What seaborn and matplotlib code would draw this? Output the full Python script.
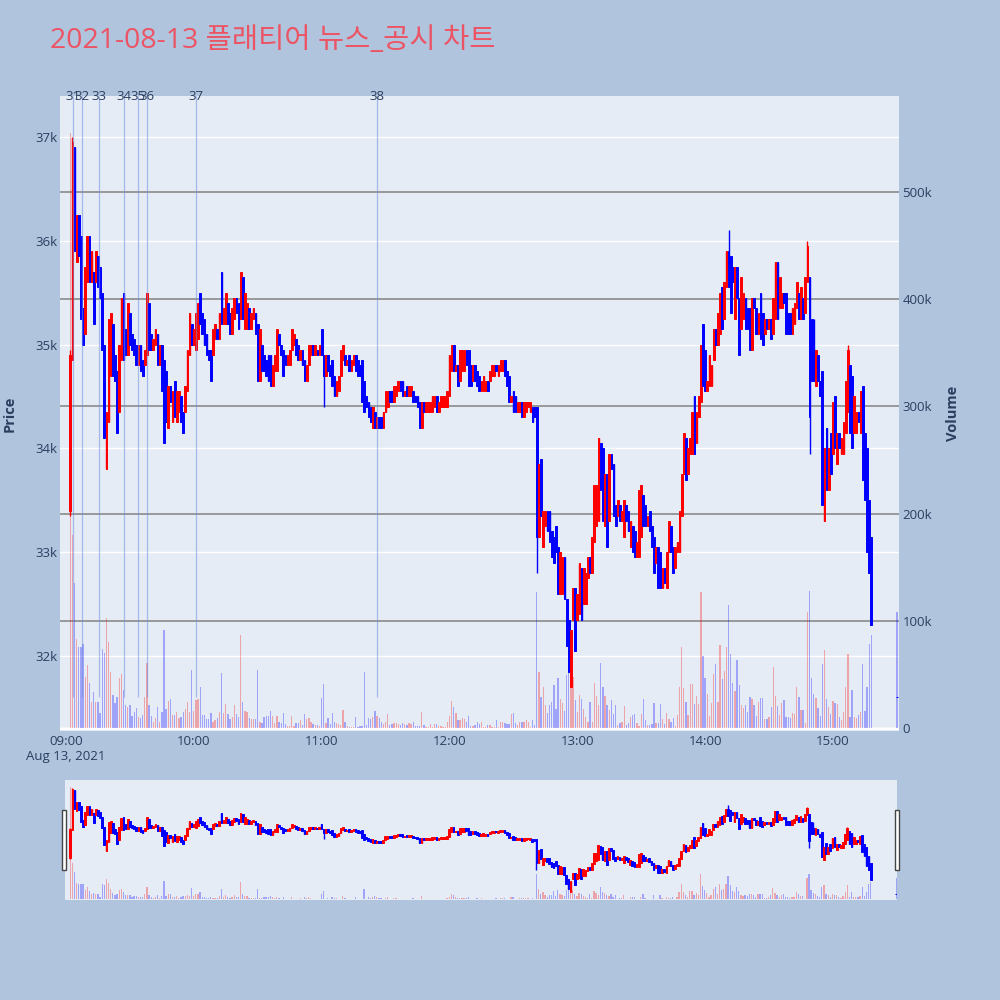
import numpy as np
import pandas as pd
import matplotlib
matplotlib.use("Agg")
import matplotlib.pyplot as plt
import matplotlib.dates as mdates
import matplotlib.ticker as mticker
from matplotlib.patches import Rectangle
import seaborn as sns

# ---------------- data (1-minute candles) ----------------
day = "2021-08-13"
first_bar = "09:02"

# open prices, one row per 10 minutes (first row starts 09:02)
open_px = [
    33400, 34850, 36900, 35800, 36250, 36050, 35350, 35100,                   # 09:02
    35600, 36050, 35600, 35700, 35600, 35850, 35750, 35500, 35000, 33800,     # 09:10
    34250, 34700, 35200, 34900, 34750, 34350, 34850, 35500, 35150, 34900,     # 09:20
    35300, 35100, 35050, 35000, 34800, 35000, 34850, 34800, 34900, 35400,     # 09:30
    35100, 34950, 35000, 35100, 34800, 35000, 34850, 34750, 34200, 34600,     # 09:40
    34250, 34650, 34250, 34350, 34500, 34350, 34350, 34550, 34900, 35200,     # 09:50
    35000, 34950, 35050, 35500, 35300, 35250, 35100, 34950, 34950, 34900,     # 10:00
    35050, 35150, 35050, 35700, 35200, 35200, 35400, 35300, 35100, 35250,     # 10:10
    35450, 35400, 35250, 35650, 35150, 35150, 35350, 35150, 35250, 35300,     # 10:20
    35200, 34650, 35000, 34900, 34850, 34900, 34900, 34600, 34750, 34750,     # 10:30
    35100, 35000, 34950, 34900, 34800, 34800, 34950, 35000, 35050, 35000,     # 10:40
    34850, 34950, 34850, 34650, 34800, 34900, 35000, 34900, 34950, 34900,     # 10:50
    35150, 34900, 34700, 34900, 34800, 34850, 34700, 34500, 34550, 34700,     # 11:00
    34850, 34900, 34800, 34900, 34750, 34800, 34900, 34850, 34800, 34850,     # 11:10
    34650, 34500, 34450, 34400, 34200, 34350, 34200, 34300, 34300, 34200,     # 11:20
    34350, 34400, 34550, 34550, 34450, 34500, 34550, 34650, 34650, 34500,     # 11:30
    34600, 34500, 34500, 34550, 34500, 34500, 34450, 34200, 34450, 34350,     # 11:40
    34350, 34350, 34350, 34400, 34500, 34350, 34400, 34400, 34400, 34400,     # 11:50
    34500, 34750, 35000, 34750, 34800, 34650, 34750, 34750, 34950, 34950,     # 12:00
    34800, 34650, 34800, 34750, 34700, 34550, 34550, 34550, 34650, 34650,     # 12:10
    34700, 34700, 34800, 34700, 34750, 34750, 34850, 34750, 34700, 34450,     # 12:20
    34550, 34500, 34350, 34350, 34450, 34300, 34350, 34400, 34350, 34400,     # 12:30
    34400, 34400, 33150, 33900, 33050, 33250, 33400, 33400, 33200, 33150,     # 12:40
    33250, 33050, 32600, 32600, 32950, 32550, 32350, 31700, 32350, 32650,     # 12:50
    32350, 32400, 32850, 32500, 32500, 32750, 32950, 32800, 33100, 33250,     # 13:00
    33300, 34050, 34000, 33250, 33750, 33300, 33950, 33850, 33450, 33350,     # 13:10
    33450, 33300, 33150, 33450, 33400, 33050, 33250, 33200, 32950, 32950,     # 13:20
    33150, 33550, 33450, 33250, 33400, 33250, 33150, 32900, 33050, 33000,     # 13:30
    32650, 32850, 32650, 33000, 33250, 33050, 32850, 33000, 33000, 33350,     # 13:40
    33750, 34100, 33750, 33950, 33950, 34500, 34050, 34300, 34450, 35200,     # 13:50
    34950, 34550, 34600, 34600, 34850, 35150, 35000, 35100, 35550, 35250,     # 14:00
    35550, 35900, 35850, 35750, 35250, 35750, 35450, 35150, 35250, 35450,     # 14:10
    35350, 35350, 34950, 35450, 35350, 35100, 35500, 35300, 35100, 35250,     # 14:20
    35150, 35250, 35100, 35250, 35800, 35350, 35350, 35500, 35500, 35300,     # 14:30
    35300, 35100, 35200, 35350, 35500, 35250, 35450, 35300, 35600, 35650,     # 14:40
    35250, 34950, 34600, 34900, 34650, 34750, 33300, 34200, 33600, 34150,     # 14:50
    33950, 34500, 33850, 34150, 33950, 33950, 34150, 34350, 34800, 34700,     # 15:00
    34150, 34150, 34350, 34150, 34600, 34150, 34000, 33500, 33150,            # 15:10
]

close_px = [
    34900, 36950, 35900, 36250, 35850, 35250, 35000, 35750,                   # 09:02
    36050, 35600, 35900, 35200, 35900, 35550, 35450, 34950, 34100, 34350,     # 09:10
    35250, 35300, 34700, 34650, 34150, 35000, 35450, 34850, 34900, 35400,     # 09:20
    35000, 34950, 34900, 34800, 35000, 34750, 34700, 34950, 35500, 34950,     # 09:30
    34950, 35050, 35150, 34800, 35000, 34550, 34050, 34250, 34600, 34450,     # 09:40
    34550, 34300, 34550, 34550, 34250, 34150, 34600, 34950, 35300, 35000,     # 09:50
    35150, 35300, 35400, 35200, 35100, 35000, 34900, 34850, 34650, 35150,     # 10:00
    35200, 35050, 35300, 35200, 35350, 35500, 35200, 35100, 35350, 35450,     # 10:10
    35300, 35150, 35700, 35250, 35500, 35400, 35150, 35300, 35350, 35100,     # 10:20
    34650, 35150, 34750, 34750, 34700, 34650, 34600, 34800, 34900, 35150,     # 10:30
    35000, 34900, 34700, 34800, 34900, 34950, 35150, 35100, 34900, 34850,     # 10:40
    34950, 34800, 34650, 34800, 35000, 35000, 34900, 35000, 34900, 35000,     # 10:50
    34900, 34700, 34900, 34750, 34700, 34600, 34500, 34650, 34700, 34950,     # 11:00
    35000, 34800, 34850, 34750, 34850, 34900, 34750, 34700, 34700, 34450,     # 11:10
    34350, 34400, 34300, 34250, 34400, 34200, 34300, 34200, 34200, 34350,     # 11:20
    34550, 34550, 34450, 34450, 34600, 34600, 34650, 34550, 34500, 34550,     # 11:30
    34500, 34600, 34600, 34450, 34450, 34400, 34200, 34450, 34350, 34450,     # 11:40
    34450, 34450, 34500, 34500, 34350, 34450, 34500, 34500, 34500, 34550,     # 11:50
    34900, 35000, 34750, 34800, 34600, 34950, 34950, 34950, 34800, 34600,     # 12:00
    34600, 34800, 34650, 34600, 34550, 34650, 34700, 34650, 34550, 34750,     # 12:10
    34800, 34800, 34750, 34800, 34850, 34850, 34700, 34600, 34450, 34500,     # 12:20
    34350, 34350, 34450, 34450, 34300, 34450, 34450, 34450, 34450, 34250,     # 12:30
    34300, 33150, 33850, 33350, 33400, 33400, 33200, 33100, 32950, 32900,     # 12:40
    33000, 32600, 33000, 32950, 32550, 32100, 31850, 32250, 32650, 32050,     # 12:50
    32600, 32900, 32350, 32850, 32800, 32950, 32800, 33150, 33650, 33650,     # 13:00
    34100, 33600, 33300, 33750, 33050, 33950, 33800, 33350, 33250, 33500,     # 13:10
    33300, 33400, 33500, 33300, 33200, 33300, 33000, 32950, 33100, 33600,     # 13:20
    33650, 33250, 33250, 33350, 33200, 33050, 32800, 33050, 32650, 32650,     # 13:30
    32850, 32700, 33000, 33300, 33000, 32800, 33050, 33100, 33400, 33750,     # 13:40
    34150, 33700, 34000, 34100, 34350, 33950, 34350, 34500, 35000, 34600,     # 13:50
    34550, 34650, 34900, 34800, 35150, 35000, 35300, 35500, 35150, 35600,     # 14:00
    35900, 35550, 35300, 35600, 35750, 35450, 34900, 35650, 35500, 35150,     # 14:10
    35150, 34950, 35450, 35350, 35100, 35300, 35050, 35000, 35250, 35150,     # 14:20
    35250, 35050, 35450, 35800, 35250, 35650, 35500, 35400, 35100, 35100,     # 14:30
    35100, 35350, 35400, 35600, 35250, 35550, 35250, 35650, 35950, 34300,     # 14:40
    34650, 34650, 34950, 34650, 34500, 33450, 34000, 33600, 34000, 33750,     # 14:50
    34450, 34000, 34150, 34000, 34100, 34250, 34650, 34950, 34150, 34000,     # 15:00
    34500, 34350, 34250, 34550, 33700, 33500, 33000, 32800, 32300,            # 15:10
]

# traded volume in thousands of shares
volume_k = [
    555, 180, 135, 83, 76, 76, 78, 48,                                        # 09:02
    59, 42, 24.5, 34, 24.5, 24.5, 14, 74, 70, 103,                            # 09:10
    80, 52, 31, 23, 29, 47, 50, 35, 21, 20,                                   # 09:20
    21, 11, 15, 18.5, 10, 9.6, 12, 29, 61, 21,                                # 09:30
    11.5, 6, 9.6, 20, 6, 14.6, 91, 17.4, 25, 27,                              # 09:40
    12, 12, 15, 9, 10, 15, 18, 24, 15, 54,                                    # 09:50
    16, 26, 27, 38.6, 12, 12, 8, 8.5, 14, 6,                                  # 10:00
    7, 9, 15, 51, 13.6, 22, 13, 8.7, 10.6, 21,                                # 10:10
    13, 10.6, 86.7, 24.5, 16, 15, 9, 8, 8.5, 8.5,                             # 10:20
    53.8, 5.6, 5, 10.6, 11, 11, 16, 11, 5, 11.5,                              # 10:30
    6, 4.4, 13.6, 3.4, 1.9, 2.2, 11.5, 2.2, 4.4, 4.4,                         # 10:40
    7.5, 3, 13, 8.5, 9.6, 6, 3.4, 3, 3, 2.2,                                  # 10:50
    27.6, 41, 4.4, 9.3, 3.4, 14, 6, 5, 3.7, 2.8,                              # 11:00
    16.8, 5.3, 2.2, 1.2, 1.2, 1.2, 10.6, 1.2, 2.2, 2.2,                       # 11:10
    52, 3, 9.6, 8, 10.6, 16, 11.5, 9, 5.6, 3.7,                               # 11:20
    6, 13, 2.5, 3.7, 5, 5, 3.7, 2.5, 4.4, 3.7,                                # 11:30
    2.8, 4.4, 3.4, 6, 2.2, 1.9, 2.2, 15, 3, 1.2,                              # 11:40
    1.2, 3.4, 1.2, 3.4, 4, 2.2, 1.9, 1.2, 1.2, 6,                             # 11:50
    11, 25, 19.6, 14, 7.5, 7.5, 9.3, 8.7, 6, 11,                              # 12:00
    1.9, 1.9, 3, 5.6, 3.7, 6, 1.2, 1.2, 2.5, 2.8,                             # 12:10
    1.2, 1.2, 7.5, 1.2, 6, 5.3, 5, 3.7, 3.7, 13,                              # 12:20
    13.6, 4.4, 2.5, 5.3, 6, 6, 7, 6, 1.2, 7.5,                                # 12:30
    2.5, 127, 52, 28.6, 38, 21, 14, 21, 24, 40,                               # 12:40
    17.7, 47, 27, 23.6, 16, 49, 92, 73, 48, 26,                               # 12:50
    15, 31, 27, 17.7, 10, 6, 24.5, 6, 42, 30,                                 # 13:00
    21, 61, 38.5, 30, 21, 16.8, 26, 13, 21, 2.5,                              # 13:10
    5, 6, 20.5, 2.5, 4.4, 10.6, 11.8, 13, 4.4, 2.2,                           # 13:20
    13, 27, 7.5, 2.8, 2.5, 3.7, 23, 4.4, 4.4, 22.4,                           # 13:30
    8.7, 3.7, 14, 8, 6, 9.6, 2.2, 11.8, 38, 76,                               # 13:40
    37, 24, 12, 41, 41, 22, 30, 22, 127, 67,                                  # 13:50
    47, 32, 11, 23, 50, 60, 24.5, 77, 46, 53,                                 # 14:00
    76, 115, 69, 42, 34.5, 63, 40, 21, 19, 21,                                # 14:10
    14.6, 29, 27, 21, 11.5, 24.5, 28, 28, 8, 8,                               # 14:20
    10.6, 19.6, 57, 30, 20.5, 12, 23.6, 26, 10.6, 10,                         # 14:30
    9, 13.6, 13, 38, 28.6, 16.8, 17, 4.4, 108, 128,                           # 14:40
    47, 32, 28, 19, 11, 60, 73, 27, 20, 13,                                   # 14:50
    25.6, 23, 22.4, 10.6, 7, 14.6, 38, 69, 10, 35,                            # 15:00
    10.6, 9.6, 12, 15, 60, 16, 38, 78, 87,                                    # 15:10
]

# wicks that stick out beyond the candle body
wick_high = {"09:02": 34950, "09:03": 37000, "14:11": 36100, "14:48": 36000,
             "14:51": 35250, "15:07": 35000}
wick_low = {"09:02": 33350, "11:01": 34400, "12:41": 32800, "14:49": 33950}

# closing auction print
auction_time = "15:30"
auction_px = 31600
auction_vol_k = 108

# news / disclosure markers
news_times = ["09:03:24", "09:07:39", "09:15:30", "09:27:06",
              "09:33:54", "09:38:00", "10:01:12", "11:26:06"]
news_labels = ["31", "32", "33", "34", "35", "36", "37", "38"]

title = "2021-08-13 플래티어 뉴스_공시 차트"

# ---------------- frame ----------------
times = pd.date_range(f"{day} {first_bar}", periods=len(open_px), freq="min")
df = pd.DataFrame({"time": times, "open": open_px, "close": close_px, "vol": volume_k})
df = pd.concat([df, pd.DataFrame({"time": [pd.Timestamp(f"{day} {auction_time}")],
                                  "open": [auction_px], "close": [auction_px],
                                  "vol": [auction_vol_k]})], ignore_index=True)
df["high"] = df[["open", "close"]].max(axis=1)
df["low"] = df[["open", "close"]].min(axis=1)
hhmm = df["time"].dt.strftime("%H:%M")
for k, v in wick_high.items():
    df.loc[hhmm == k, "high"] = v
for k, v in wick_low.items():
    df.loc[hhmm == k, "low"] = v
df["color"] = np.where(df["close"] > df["open"], "#FF0000", "#0000FF")

news_t = pd.to_datetime([f"{day} {t}" for t in news_times])

# ---------------- style ----------------
sns.set_theme(style="white")
plt.rcParams["font.family"] = ["Open Sans", "Noto Sans CJK KR", "DejaVu Sans"]
TXT = "#2a3f5f"
PLOT_BG = "#E5ECF6"
PAGE_BG = "#B0C4DE"

PRICE_LIM = (31277, 37395)
VOL_LIM = (-2.8, 589.6)
MIN = 1 / 1440.0


def draw_candles(ax, d, body_w, body_lw, wick_lw):
    ax.vlines(d["time"], d["low"], d["high"], colors=d["color"], lw=wick_lw, zorder=3)
    ax.bar(d["time"], d["close"] - d["open"], bottom=d["open"], width=body_w * MIN,
           color=d["color"], edgecolor=d["color"], lw=body_lw, zorder=4)


def draw_volume(ax, d, w):
    ax.bar(d["time"], d["vol"], width=w * MIN, color=d["color"], alpha=0.3, lw=0, zorder=2)


fig = plt.figure(figsize=(10, 10), dpi=100, facecolor=PAGE_BG)

# main panel: background/grid axis (price), volume axis, candle axis
ax = fig.add_axes([0.060, 0.269, 0.839, 0.635])
ax.set_facecolor(PLOT_BG)
axv = ax.twinx()
axc = ax.twinx()

ax.set_xlim(pd.Timestamp(f"{day} 08:57:11"), pd.Timestamp(f"{day} 15:31:00"))
for a in (ax, axc):
    a.set_ylim(*PRICE_LIM)
axv.set_ylim(*VOL_LIM)

# price grid + ticks (left)
ax.set_yticks([32000, 33000, 34000, 35000, 36000, 37000])
ax.yaxis.set_major_formatter(mticker.FuncFormatter(lambda v, p: f"{int(v / 1000)}k"))
ax.grid(axis="y", color="white", lw=1.0)
ax.grid(axis="x", visible=False)
ax.tick_params(axis="y", length=0, pad=1.5, labelsize=9.5, labelcolor=TXT)

# x ticks
ax.xaxis.set_major_locator(mdates.HourLocator())


def fmt_time(v, pos):
    t = mdates.num2date(v)
    s = t.strftime("%H:%M")
    if t.hour == 9:
        s += "\nAug 13, 2021"
    return s


ax.xaxis.set_major_formatter(mticker.FuncFormatter(fmt_time))
ax.tick_params(axis="x", length=0, pad=3, labelsize=9.5, labelcolor=TXT)

# volume axis (right)
axv.set_yticks([0, 100, 200, 300, 400, 500])
axv.yaxis.set_major_formatter(mticker.FuncFormatter(lambda v, p: "0" if v == 0 else f"{int(v)}k"))
axv.grid(axis="y", color="#8a8a8a", lw=1.2)
axv.grid(axis="x", visible=False)
axv.set_axisbelow(True)
axv.axhline(0, color="white", lw=2, zorder=1)
axv.tick_params(axis="y", length=0, pad=2.5, labelsize=9.5, labelcolor=TXT)
draw_volume(axv, df, 0.6)

# candles
axc.set_yticks([])
axc.grid(False)
draw_candles(axc, df, 0.8, 0.7, 1.0)

# news markers (labels overlap where markers are close, as in the source chart)
axc.vlines(news_t, auction_px, PRICE_LIM[1], colors="#6f8fe0", alpha=0.55, lw=0.9, zorder=6)
for t, lab in zip(news_t, news_labels):
    axc.text(t, 1.0, lab, transform=axc.get_xaxis_transform(), ha="center", va="center",
             fontsize=9.5, color=TXT, zorder=7)

for a in (ax, axv, axc):
    for s in a.spines.values():
        s.set_visible(False)

# titles
fig.text(0.050, 0.959, title, fontsize=20.5, color="#EC5464", ha="left", va="center")
fig.text(0.010, 0.5865, "Price", rotation=90, fontsize=10.5, fontweight="bold",
         color=TXT, ha="center", va="center")
fig.text(0.953, 0.5865, "Volume", rotation=90, fontsize=10.5, fontweight="bold",
         color=TXT, ha="center", va="center")

# ---------------- range slider ----------------
axs = fig.add_axes([0.065, 0.100, 0.832, 0.120])
axs.set_facecolor(PLOT_BG)
axs_c = axs.twinx()
axs.set_xlim(pd.Timestamp(f"{day} 08:59:32"), pd.Timestamp(f"{day} 15:30:20"))
axs.set_ylim(*VOL_LIM)
axs_c.set_ylim(*PRICE_LIM)
draw_volume(axs, df, 0.6)
draw_candles(axs_c, df, 0.8, 0.7, 1.0)
for a in (axs, axs_c):
    a.set_xticks([])
    a.set_yticks([])
    a.grid(False)
    for s in a.spines.values():
        s.set_visible(False)

# slider handles
for hx in (0.0615, 0.8953):
    fig.patches.append(Rectangle((hx, 0.130), 0.004, 0.060, transform=fig.transFigure,
                                 facecolor="white", edgecolor="#444444", lw=1.0))

fig.savefig("out.png", dpi=100, facecolor=PAGE_BG)
